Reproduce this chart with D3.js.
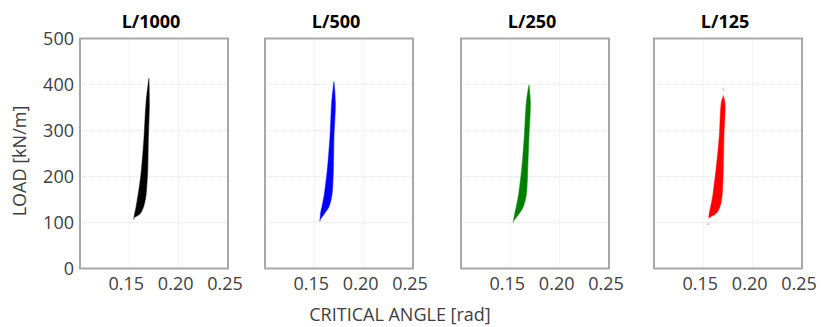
<!DOCTYPE html>
<html>
<head>
<meta charset="utf-8">
<script src="https://cdn.jsdelivr.net/npm/d3@7/dist/d3.min.js"></script>
<style>
  html, body { margin: 0; padding: 0; background: #fff; }
  svg text { font-family: "Open Sans", sans-serif; }
</style>
</head>
<body>
<script>
// panels
const titles = ['L/1000', 'L/500', 'L/250', 'L/125'];
const colors = ['#000000', '#0000ff', '#008000', '#ff0000'];

// cloud outlines: load [kN/m] with min / max critical angle [rad]
const l1000Load = [414, 358, 285, 213, 177, 155, 133, 119, 111];
const l1000Min  = [0.1699, 0.1669, 0.1649, 0.1622, 0.1601, 0.1585, 0.1568, 0.1554, 0.1547];
const l1000Max  = [0.1699, 0.1703, 0.1693, 0.1686, 0.1676, 0.1666, 0.1642, 0.1608, 0.1547];

const l500Load = [407, 360, 288, 215, 179, 157, 135, 121, 106];
const l500Min  = [0.1699, 0.1676, 0.1659, 0.1632, 0.1612, 0.1598, 0.1578, 0.1564, 0.1558];
const l500Max  = [0.1699, 0.1713, 0.1699, 0.1693, 0.1686, 0.1676, 0.1649, 0.1608, 0.1558];

const l250Load = [400, 360, 288, 215, 179, 157, 135, 121, 103];
const l250Min  = [0.1689, 0.1662, 0.1642, 0.1615, 0.1595, 0.1581, 0.1561, 0.1547, 0.1530];
const l250Max  = [0.1689, 0.1703, 0.1689, 0.1676, 0.1669, 0.1659, 0.1632, 0.1595, 0.1530];

const l125Load = [375, 360, 288, 215, 179, 157, 135, 121, 110];
const l125Min  = [0.1702, 0.1682, 0.1662, 0.1629, 0.1608, 0.1595, 0.1575, 0.1561, 0.1555];
const l125Max  = [0.1702, 0.1719, 0.1709, 0.1702, 0.1696, 0.1689, 0.1669, 0.1635, 0.1555];

// a few isolated points outside the dense clouds
const strayAngle = [[0.1547], [0.1558], [0.1530], [0.1702, 0.1550]];
const strayLoad  = [[108], [104], [101], [389, 96]];

const xTicks = [0.15, 0.20, 0.25];
const xGrid = [0.15, 0.20];
const yTicks = [0, 100, 200, 300, 400, 500];

const series = [
  { load: l1000Load, min: l1000Min, max: l1000Max },
  { load: l500Load, min: l500Min, max: l500Max },
  { load: l250Load, min: l250Min, max: l250Max },
  { load: l125Load, min: l125Min, max: l125Max }
];

const W = 827, H = 327;
const panelLeft = [80, 265, 461, 654];
const panelW = 148;
const plotTop = 38.5, plotBottom = 268.5;

const svg = d3.select('body').append('svg')
  .attr('width', W)
  .attr('height', H);

// soft edge, the clouds are made of many tiny points
svg.append('defs').append('filter')
  .attr('id', 'soft')
  .append('feGaussianBlur')
  .attr('stdDeviation', 0.45);

const y = d3.scaleLinear().domain([0, 500]).range([plotBottom, plotTop]);

series.forEach((s, i) => {
  const x = d3.scaleLinear().domain([0.10, 0.25]).range([panelLeft[i], panelLeft[i] + panelW]);
  const g = svg.append('g');

  // grid
  g.selectAll('.gx').data(xGrid).enter().append('line')
    .attr('x1', d => x(d)).attr('x2', d => x(d))
    .attr('y1', plotTop).attr('y2', plotBottom)
    .style('stroke', '#e6e6e6').style('stroke-dasharray', '1,1');
  g.selectAll('.gy').data(yTicks.slice(1, -1)).enter().append('line')
    .attr('x1', x(0.10)).attr('x2', x(0.25))
    .attr('y1', d => y(d)).attr('y2', d => y(d))
    .style('stroke', '#e6e6e6').style('stroke-dasharray', '1,1');

  // cloud
  const pts = s.load.map((d, k) => ({ load: d, lo: s.min[k], hi: s.max[k] }));
  const area = d3.area()
    .x0(d => x(d.lo))
    .x1(d => x(d.hi))
    .y(d => y(d.load))
    .curve(d3.curveCatmullRom);
  g.append('path')
    .attr('d', area(pts))
    .attr('filter', 'url(#soft)')
    .style('fill', colors[i])
    .style('stroke', colors[i])
    .style('stroke-opacity', 0.45)
    .style('stroke-width', 1.2);

  g.selectAll('.stray').data(strayAngle[i]).enter().append('circle')
    .attr('cx', d => x(d))
    .attr('cy', (d, k) => y(strayLoad[i][k]))
    .attr('r', 1)
    .style('fill', colors[i])
    .style('opacity', 0.35);

  // frame
  g.append('rect')
    .attr('x', x(0.10)).attr('y', plotTop)
    .attr('width', panelW).attr('height', plotBottom - plotTop)
    .style('fill', 'none')
    .style('stroke', '#a8a8a8')
    .style('stroke-width', 2);

  // x tick labels
  g.selectAll('.xt').data(xTicks).enter().append('text')
    .attr('x', d => x(d) - 3)
    .attr('y', 290)
    .attr('text-anchor', 'middle')
    .style('font-size', '18px')
    .style('fill', '#404040')
    .text(d => d3.format('.2f')(d));

  // title
  g.append('text')
    .attr('x', x(0.172))
    .attr('y', 28)
    .attr('text-anchor', 'middle')
    .style('font-size', '18px')
    .style('font-weight', 'bold')
    .style('fill', '#000')
    .text(titles[i]);
});

// y ticks on first panel only
svg.selectAll('.yt').data(yTicks).enter().append('text')
  .attr('x', 74)
  .attr('y', d => y(d))
  .attr('dy', '0.36em')
  .attr('text-anchor', 'end')
  .style('font-size', '18px')
  .style('fill', '#404040')
  .text(d => d);

svg.append('text')
  .attr('transform', 'translate(26,161) rotate(-90)')
  .attr('text-anchor', 'middle')
  .style('font-size', '18px')
  .style('fill', '#404040')
  .text('LOAD [kN/m]');

svg.append('text')
  .attr('x', 400)
  .attr('y', 321)
  .attr('text-anchor', 'middle')
  .style('font-size', '18px')
  .style('fill', '#404040')
  .text('CRITICAL ANGLE [rad]');
</script>
</body>
</html>
